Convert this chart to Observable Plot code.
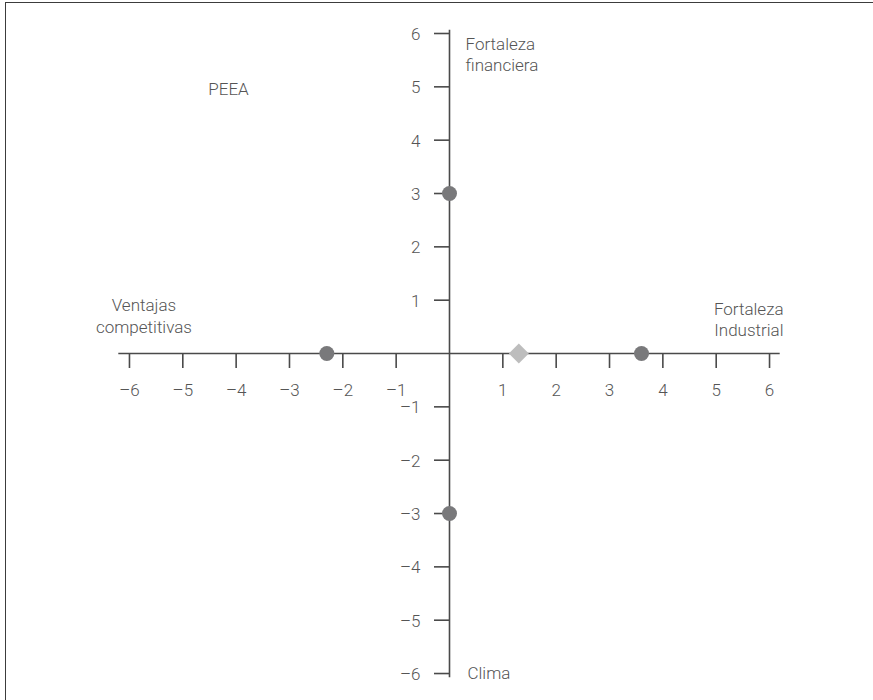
<!DOCTYPE html>
<html><head><meta charset="utf-8">
<script src="https://cdn.jsdelivr.net/npm/d3@7"></script>
<script src="https://cdn.jsdelivr.net/npm/@observablehq/plot@0.6"></script>
<style>
body{margin:0;background:#fff;}
#wrap{position:relative;width:873px;height:700px;overflow:hidden;}
#chart{position:absolute;left:0;top:0;}
#border{position:absolute;left:4.5px;top:2px;width:900px;height:720px;border-top:1.5px solid #3c3c3c;border-left:1.5px solid #3c3c3c;pointer-events:none;}
</style></head><body>
<div id="wrap"><div id="chart"></div><div id="border"></div></div>
<script>
// Data
const title = "PEEA";
const axisNames = ["Fortaleza financiera", "Clima", "Ventajas competitivas", "Fortaleza Industrial"];
const axisX = [0, 0, -2.3, 3.6];
const axisY = [3, -3, 0, 0];
const vectorX = [1.3];
const vectorY = [0];
const xTicks = [-6, -5, -4, -3, -2, -1, 1, 2, 3, 4, 5, 6];
const xTickLabels = ["–6", "–5", "–4", "–3", "–2", "–1", "1", "2", "3", "4", "5", "6"];
const yTicks = [6, 5, 4, 3, 2, 1, -1, -2, -3, -4, -5, -6];
const yTickLabels = ["6", "5", "4", "3", "2", "1", "–1", "–2", "–3", "–4", "–5", "–6"];
const xDomain = [-6.2, 6.2];
const yDomain = [-6.08, 6.06];

const points = axisNames.map((n, i) => ({name: n, x: axisX[i], y: axisY[i]}));
const vector = vectorX.map((x, i) => ({x, y: vectorY[i]}));
const xt = xTicks.map((v, i) => ({v, label: xTickLabels[i]}));
const yt = yTicks.map((v, i) => ({v, label: yTickLabels[i]}));

const ink = "#4a4a4a";
const txt = "#555555";
const font = "Roboto, 'Liberation Sans', sans-serif";
const fs = 17;

const plot = Plot.plot({
  width: 873,
  height: 700,
  marginLeft: 118.3,
  marginRight: 93.3,
  marginTop: 29.8,
  marginBottom: 22.7,
  style: {background: "transparent", fontFamily: font, fontWeight: 300, fontSize: fs + "px", color: txt},
  x: {domain: xDomain, axis: null},
  y: {domain: yDomain, axis: null},
  marks: [
    Plot.ruleY([0], {stroke: ink, strokeWidth: 1.6}),
    Plot.ruleX([0], {stroke: ink, strokeWidth: 1.6}),
    Plot.ruleX(xt, {x: "v", y1: () => 0, y2: () => 0, insetBottom: -15, stroke: ink, strokeWidth: 1.6}),
    Plot.ruleY(yt, {y: "v", x1: () => 0, x2: () => 0, insetLeft: -15, stroke: ink, strokeWidth: 1.6}),
    Plot.text(xt, {x: "v", y: () => 0, text: "label", textAnchor: "middle", lineAnchor: "top", dy: 30, fontSize: fs, fill: txt}),
    Plot.text(yt, {x: () => 0, y: "v", text: "label", textAnchor: "end", lineAnchor: "top", dx: -29, dy: -5.5, fontSize: fs, fill: txt}),
    Plot.text(["Fortaleza\nfinanciera"], {x: () => 0, y: () => 6, text: d => d, textAnchor: "start", lineAnchor: "top", lineHeight: 1.24, dx: 16, dy: 1.5, fontSize: fs, fill: txt}),
    Plot.text(["Ventajas\ncompetitivas"], {x: () => -6, y: () => 0, text: d => d, textAnchor: "middle", lineAnchor: "top", lineHeight: 1.24, dx: 14.5, dy: -57, fontSize: fs, fill: txt}),
    Plot.text(["Fortaleza\nIndustrial"], {x: () => 6, y: () => 0, text: d => d, textAnchor: "end", lineAnchor: "top", lineHeight: 1.24, dx: 14, dy: -53.5, fontSize: fs, fill: txt}),
    Plot.text(["Clima"], {x: () => 0, y: () => -6, text: d => d, textAnchor: "start", lineAnchor: "top", dx: 18, dy: -7, fontSize: fs, fill: txt}),
    Plot.text([title], {frameAnchor: "top-left", text: d => d, textAnchor: "start", lineAnchor: "top", dx: 89.5, dy: 53, fontSize: fs, fill: txt}),
    Plot.dot(points, {x: "x", y: "y", r: 7.5, fill: "#79797b", stroke: null}),
    Plot.dot(vector, {x: "x", y: "y", r: 9, symbol: "diamond2", fill: "#bdbdbd", stroke: null})
  ]
});
document.getElementById("chart").appendChild(plot);
</script>
</body></html>
